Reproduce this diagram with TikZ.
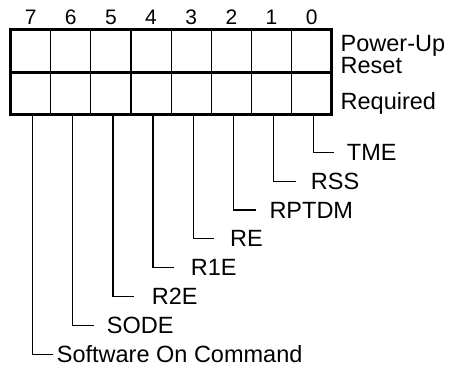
\documentclass[tikz,border=0pt]{standalone}
\usepackage{fontspec}
\setmainfont{Liberation Sans}
\usepackage{tikz}
\usetikzlibrary{positioning, calc}

\begin{document}
\begin{tikzpicture}[
    x=1pt, y=-1pt,
    font=\fontsize{23.5}{26}\selectfont,
    cell/.style={rectangle, draw=black, line width=1.2pt, outer sep=0pt,
                 minimum width=40.15pt, minimum height=42.5pt, inner sep=0pt},
    frame/.style={draw=black, line width=3pt},
    leader/.style={-, draw=black, line width=1.2pt},
    bitnum/.style={inner sep=0pt, font=\fontsize{21}{24}\selectfont},
    sidetext/.style={inner sep=0pt, anchor=base west},
    fieldname/.style={inner sep=0pt, anchor=west},
]
\useasboundingbox (0,0) rectangle (450,371);

% ============================================================
% REGISTER CELLS (bit 7 on the left)
% ============================================================
\node[cell] (t7) at (30.6,51.25) {};
\foreach \i [evaluate=\i as \j using int(\i+1)] in {6,...,0}
    \node[cell, right=0pt of t\j] (t\i) {};
\foreach \i in {0,...,7}
    \node[cell, below=0pt of t\i] (b\i) {};

% heavy outline and row divider
\draw[frame] (t7.north west) rectangle (b0.south east);
\draw[frame] (t7.south west) -- (t0.south east);

% bit numbers
\foreach \i in {0,...,7}
    \node[bitnum, above=5pt of t\i] (n\i) {\i};

% ============================================================
% ROW LABELS
% ============================================================
\node[sidetext] (pwr) at (340.5,51.8) {Power-Up};
\node[sidetext] (rst) at (340.5,73.6) {Reset};
\node[sidetext] (req) at (340.5,110) {Required};

% ============================================================
% FIELD NAMES AND LEADERS
% ============================================================
\foreach \i/\txt/\lx/\gap in {0/TME/346.7/12.7, 1/RSS/310.7/15,
        2/RPTDM/269.3/13.3, 3/RE/230/15.7, 4/R1E/190.7/16.4,
        5/R2E/151.7/17.4, 6/SODE/106.7/12.4,
        7/Software On Command/56.7/3.4} {
    \node[fieldname] (f\i) at (\lx,{152.3+28.86*\i}) {\txt};
    \coordinate (e\i) at ([xshift=-\gap pt]f\i.west);
    \draw[leader] ([xshift=2pt]b\i.south) |- (e\i);
}

\end{tikzpicture}
\end{document}
